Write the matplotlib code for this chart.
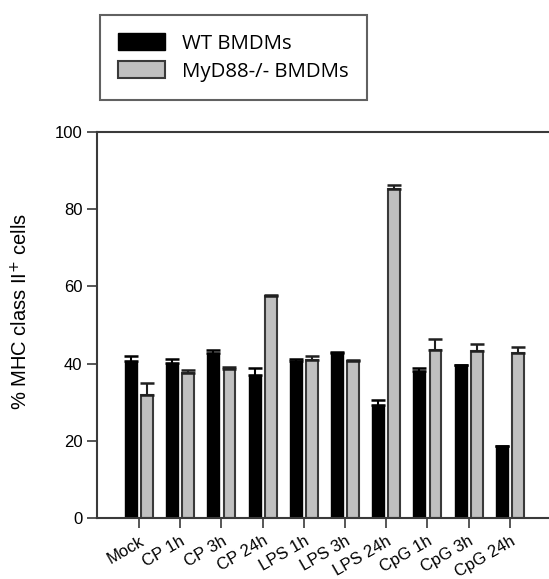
import matplotlib.pyplot as plt
import numpy as np
from matplotlib.patches import Patch

# data
groups = ['Mock', 'CP 1h', 'CP 3h', 'CP 24h', 'LPS 1h', 'LPS 3h',
          'LPS 24h', 'CpG 1h', 'CpG 3h', 'CpG 24h']
wt = [40.8, 40.1, 42.7, 37.0, 40.8, 42.8, 29.4, 38.2, 39.6, 18.7]
wt_err = [1.1, 1.2, 0.8, 1.9, 0.3, 0.3, 1.1, 0.6, 0.0, 0.0]
ko = [31.8, 37.6, 38.5, 57.6, 40.9, 40.7, 85.2, 43.5, 43.3, 42.7]
ko_err = [3.2, 0.7, 0.6, 0.2, 1.1, 0.3, 1.1, 3.0, 1.9, 1.5]

plt.rcParams['font.family'] = ['Liberation Sans', 'DejaVu Sans']

fig = plt.figure(figsize=(5.49, 5.79), dpi=100)
ax = fig.add_axes([0.1767, 0.1054, 0.8233, 0.6666])

x = np.arange(len(groups))
w = 0.29
off = 0.195
edge = '#3a3a3a'
ax.bar(x - off, wt, w, color='black', edgecolor='black', linewidth=1,
       yerr=[np.zeros(len(wt)), wt_err], error_kw=dict(ecolor='black', elinewidth=1.5, capsize=5.2, capthick=1.8))
ax.bar(x + off, ko, w, color='#c0c0c0', edgecolor=edge, linewidth=1.5,
       yerr=[np.zeros(len(ko)), ko_err], error_kw=dict(ecolor='#202020', elinewidth=1.5, capsize=5.2, capthick=1.8))

ax.set_xlim(-1.02, 9.95)
ax.set_ylim(0, 100)
ax.set_yticks([0, 20, 40, 60, 80, 100])
ax.set_xticks(x)
ax.set_xticklabels(groups, rotation=30, ha='right', rotation_mode='anchor')
ax.tick_params(axis='both', direction='out', length=7, width=1.2, color=edge, labelsize=12)
ax.tick_params(axis='x', labelsize=12, pad=4)
for s in ['left', 'bottom', 'top']:
    ax.spines[s].set_color(edge)
    ax.spines[s].set_linewidth(1.5)
ax.spines['right'].set_visible(False)
ax.set_ylabel(r'% MHC class II$^{+}$ cells', fontsize=14.5)
ax.yaxis.set_label_coords(-0.145, 0.535)

handles = [Patch(facecolor='black', edgecolor='black', label='WT BMDMs'),
           Patch(facecolor='#c0c0c0', edgecolor=edge, linewidth=1.5, label='MyD88-/- BMDMs')]
leg = fig.legend(handles=handles, loc='upper left', bbox_to_anchor=(0.182, 0.974),
                 frameon=True, fancybox=False, edgecolor=edge,
                 handlelength=2.3, handleheight=0.9, handletextpad=0.8,
                 labelspacing=0.35, borderpad=0.9, borderaxespad=0,
                 prop={'family': ['Open Sans', 'DejaVu Sans'], 'size': 14.7})
leg.get_frame().set_linewidth(1.5)

fig.savefig('out.png', dpi=100)
